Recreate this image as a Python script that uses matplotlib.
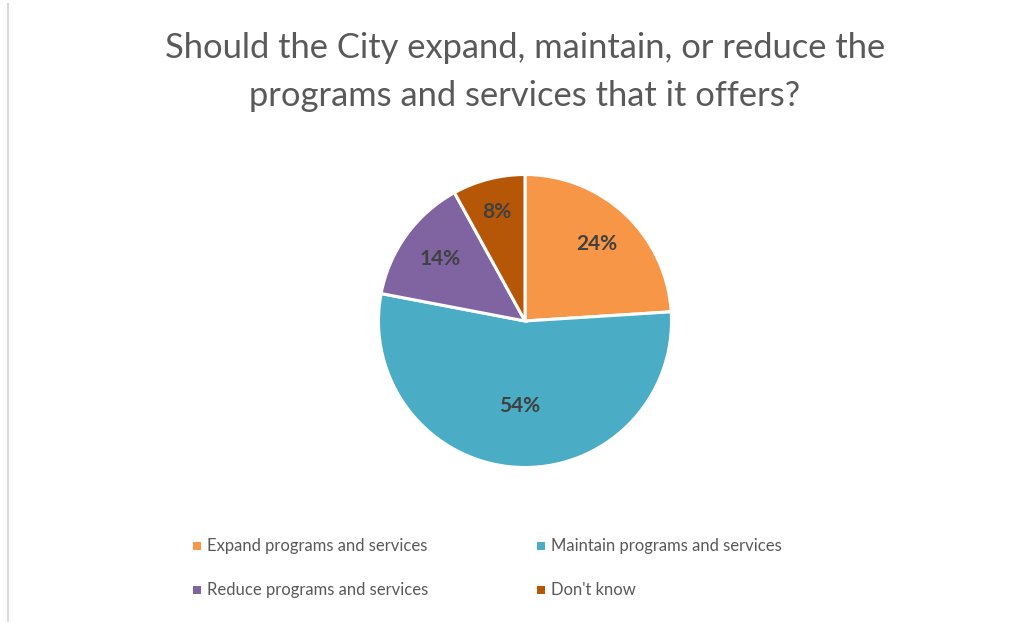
import matplotlib
matplotlib.use("Agg")
import matplotlib.pyplot as plt
from matplotlib.lines import Line2D
from matplotlib.patches import Rectangle
import numpy as np

categories = ["Expand programs and services", "Maintain programs and services",
              "Reduce programs and services", "Don't know"]
values = [24, 54, 14, 8]
colors = ["#F79646", "#4BACC6", "#8064A2", "#B65708"]
label_radius = [0.72, 0.58, 0.72, 0.77]

plt.rcParams['font.family'] = ['Lato', 'DejaVu Sans']

W, H = 1029, 622
fig = plt.figure(figsize=(W/100, H/100), dpi=100)
fig.patch.set_facecolor("white")

# chart border (left edge visible)
fig.add_artist(Line2D([7.5/W, 7.5/W], [0, 1 - 4/H], transform=fig.transFigure,
                      color="#D9D9D9", lw=1.5))

cx, cy, R = 525, 321, 146.5
ax = fig.add_axes([(cx - R)/W, (H - cy - R)/H, 2*R/W, 2*R/H])
wedges, _ = ax.pie(values, colors=colors, startangle=90, counterclock=False,
                   radius=1.0, wedgeprops=dict(edgecolor="white", linewidth=2.2))
ax.set_xlim(-1, 1); ax.set_ylim(-1, 1)
ax.set_aspect('equal')
ax.axis('off')

for w, v, rf in zip(wedges, values, label_radius):
    ang = np.deg2rad((w.theta1 + w.theta2) / 2)
    ax.text(rf*np.cos(ang), rf*np.sin(ang), f"{v}%", ha="center", va="center",
            fontsize=15, fontweight="bold", color="#404040")

fig.text(cx/W, 1 - 48/H, "Should the City expand, maintain, or reduce the",
         ha="center", va="center", fontsize=24.8, color="#595959")
fig.text(cx/W, 1 - 96/H, "programs and services that it offers?",
         ha="center", va="center", fontsize=24.8, color="#595959")

# legend
rows = [(546, [(197, 0), (541, 1)]), (590, [(197, 2), (541, 3)])]
for y, items in rows:
    for x, i in items:
        fig.add_artist(Rectangle(((x - 4)/W, 1 - (y + 4)/H), 8/W, 8/H,
                                 transform=fig.transFigure, color=colors[i], lw=0))
        fig.text((x + 10)/W, 1 - y/H, categories[i], ha="left", va="center",
                 fontsize=12, color="#595959")

fig.savefig("out.png", dpi=100, facecolor="white")
